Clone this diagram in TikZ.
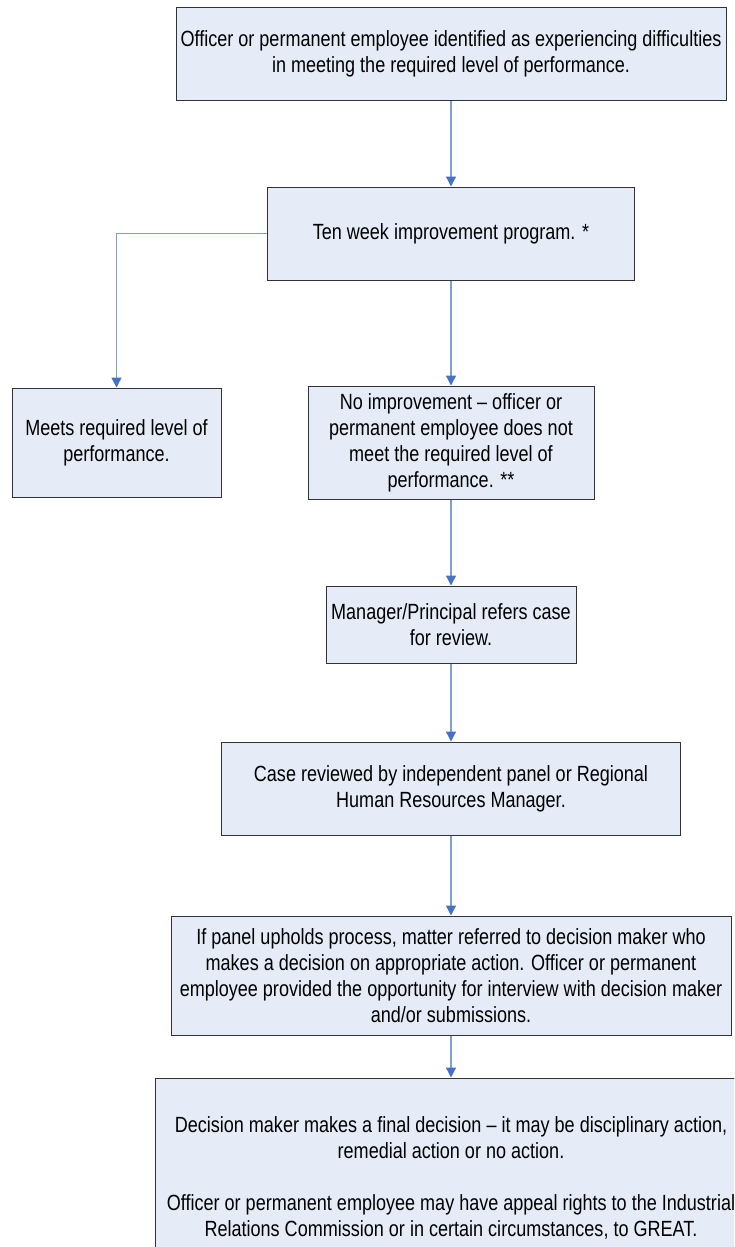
\documentclass[tikz,border=0pt]{standalone}
\usepackage{fontspec}
\setmainfont{Liberation Sans}[FakeStretch=0.82]
\usetikzlibrary{positioning,arrows.meta}
\definecolor{boxfill}{HTML}{E6ECF7}
\definecolor{flowline}{HTML}{7F9FD3}
\definecolor{flowhead}{HTML}{4472C4}
\tikzset{
    % Box styles
    stage/.style={rectangle, draw=black!80, fill=boxfill, line width=1pt,
                  align=center, inner sep=0pt, font=\fontsize{22}{26}\selectfont},
    % Arrow styles
    flow/.style={draw=flowline, line width=1.3pt,
                 -{Triangle[length=10pt, width=10pt, color=flowhead]}},
}

\begin{document}
\begin{tikzpicture}[x=1pt, y=-1pt]
    \path[use as bounding box, clip] (0,0) rectangle (734,1247);

    % Stages
    \node[stage, minimum width=550pt, minimum height=93pt] (identified) at (451,54)
        {Officer or permanent employee identified as experiencing difficulties\\
         in meeting the required level of performance.};
    \node[stage, minimum width=367pt, minimum height=93pt] (program) at (451,233.5)
        {Ten week improvement program. *};
    \node[stage, minimum width=209pt, minimum height=109pt] (meets) at (116.5,442.5)
        {Meets required level of\\ performance.};
    \node[stage, minimum width=286pt, minimum height=113pt] (noimprove) at (451,442.5)
        {No improvement -- officer or\\ permanent employee does not\\
         meet the required level of\\ performance. **};
    \node[stage, minimum width=250pt, minimum height=77pt] (refers) at (451,624.5)
        {Manager/Principal refers case\\ for review.};
    \node[stage, minimum width=459pt, minimum height=93pt] (reviewed) at (451,788.5)
        {Case reviewed by independent panel or Regional\\
         Human Resources Manager.};
    \node[stage, minimum width=560pt, minimum height=119pt] (upholds) at (451,975.5)
        {If panel upholds process, matter referred to decision maker who\\
         makes a decision on appropriate action. Officer or permanent\\
         employee provided the opportunity for interview with decision maker\\
         and/or submissions.};
    \node[stage, minimum width=592pt, minimum height=200pt] (final) at (451,1178)
        {Decision maker makes a final decision -- it may be disciplinary action,\\
         remedial action or no action.\\[26pt]
         Officer or permanent employee may have appeal rights to the Industrial\\
         Relations Commission or in certain circumstances, to GREAT.};

    % Connectors
    \draw[flow] (identified) -- (program);
    \draw[flow] (program.west) -| (meets.north);
    \draw[flow] (program) -- (noimprove);
    \draw[flow] (noimprove) -- (refers);
    \draw[flow] (refers) -- (reviewed);
    \draw[flow] (reviewed) -- (upholds);
    \draw[flow] (upholds) -- (final);
\end{tikzpicture}
\end{document}
